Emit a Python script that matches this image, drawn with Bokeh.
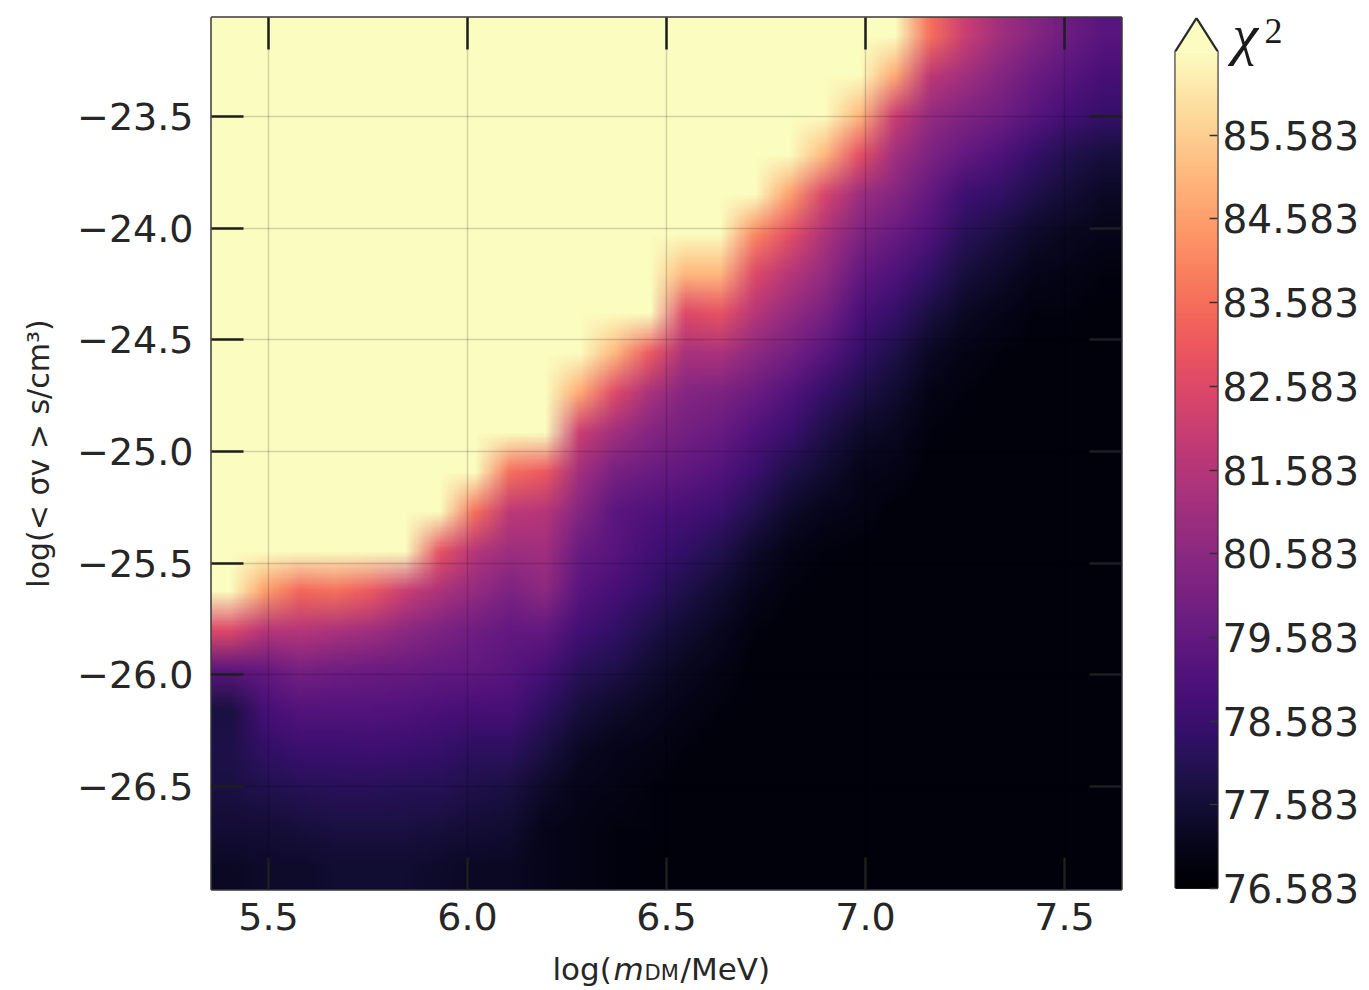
import numpy as np
from bokeh.plotting import figure
from bokeh.models import (Range1d, LinearColorMapper, FixedTicker, LinearAxis, ColorBar,
                          CustomJSTickFormatter, PrintfTickFormatter, Label)
from bokeh.layouts import row, column
from bokeh.palettes import Magma256
from bokeh.embed import file_html
from bokeh.resources import INLINE

# ---------------- data ----------------
CHI2_MIN = 76.583          # colour scale bottom
CHI2_SPAN = 10.0           # colour scale covers CHI2_MIN .. CHI2_MIN + 10
X_LIM = (5.357, 7.643)     # log(m_DM / MeV), image extent
Y_LIM = (-26.961, -23.057) # log(<sigma v> s/cm^3), image extent

x_ticks = [5.5, 6.0, 6.5, 7.0, 7.5]
y_ticks = [-26.5, -26.0, -25.5, -25.0, -24.5, -24.0, -23.5]
cbar_ticks = [76.583, 77.583, 78.583, 79.583, 80.583, 81.583, 82.583, 83.583, 84.583, 85.583]

SAT = 12.0  # delta chi^2 above the colour range (pale yellow region)

# delta chi^2 (chi^2 - CHI2_MIN), one list per mass column (left -> right),
# each list runs from the top row (largest <sigma v>) down to the bottom row
dchi2_columns = [
    [SAT] * 15 + [6.0, 2.8, 1.2, 1.3, 1.2, 1.0, 0.7],
    [SAT] * 14 + [8.0, 5.0, 3.0, 2.3, 1.8, 1.4, 1.0, 0.8],
    [SAT] * 14 + [6.8, 5.0, 3.5, 2.6, 2.0, 1.5, 1.1, 0.8],
    [SAT] * 14 + [7.0, 4.8, 3.3, 2.6, 2.0, 1.6, 1.2, 0.9],
    [SAT] * 14 + [6.5, 4.5, 3.2, 2.6, 2.1, 1.6, 1.2, 0.9],
    [SAT] * 14 + [5.5, 4.0, 3.1, 2.5, 2.0, 1.5, 1.2, 0.9],
    [SAT] * 13 + [6.3, 4.8, 3.6, 3.0, 2.4, 1.9, 1.5, 1.1, 0.8],
    [SAT] * 12 + [7.0, 5.0, 4.2, 3.3, 2.9, 2.3, 1.7, 1.3, 1.0, 0.7],
    [SAT] * 11 + [7.0, 5.2, 4.4, 3.6, 3.0, 2.7, 2.3, 1.7, 1.2, 0.9, 0.7],
    [SAT] * 11 + [6.5, 5.0, 4.5, 4.0, 3.0, 2.3, 1.7, 1.2, 0.8, 0.5, 0.5],
    [SAT] * 9 + [8.2, 5.5, 4.5, 3.8, 3.1, 2.7, 2.2, 1.6, 1.1, 0.7, 0.5, 0.4, 0.4],
    [SAT] * 8 + [8.5, 6.0, 4.5, 3.5, 2.8, 2.7, 2.3, 1.8, 1.3, 0.8, 0.5, 0.4, 0.3, 0.3],
    [SAT] * 8 + [6.5, 4.7, 3.8, 3.2, 2.5, 2.2, 1.8, 1.3, 0.9, 0.6, 0.4, 0.3, 0.3, 0.2],
    [SAT] * 6 + [8.5, 6.0, 4.7, 3.8, 3.4, 2.9, 2.3, 1.8, 1.3, 0.9, 0.6, 0.4, 0.3, 0.2, 0.2, 0.2],
    [SAT] * 6 + [8.5, 6.3, 4.8, 3.6, 3.1, 2.6, 2.0, 1.4, 0.9, 0.6, 0.4, 0.3, 0.2, 0.2, 0.2, 0.2],
    [SAT] * 5 + [7.5, 6.0, 5.0, 4.0, 3.2, 2.5, 2.0, 1.4, 0.8, 0.5, 0.3] + [0.2] * 6,
    [SAT] * 4 + [8.0, 6.2, 5.0, 4.2, 3.4, 2.6, 2.0, 1.3, 0.8, 0.4, 0.3] + [0.2] * 7,
    [SAT] * 3 + [8.5, 5.8, 4.8, 4.2, 3.5, 2.7, 1.9, 1.3, 0.9, 0.5, 0.3] + [0.2] * 8,
    [SAT] * 2 + [8.5, 6.2, 4.4, 3.7, 3.0, 2.4, 1.9, 1.3, 0.8, 0.5, 0.4] + [0.2] * 9,
    [SAT] * 1 + [8.2, 5.5, 4.5, 3.8, 3.1, 2.5, 1.9, 1.3, 0.9, 0.6, 0.4] + [0.2] * 10,
    [7.0, 5.2, 4.2, 3.6, 3.0, 2.5, 1.8, 1.2, 0.7, 0.4, 0.3] + [0.2] * 11,
    [5.5, 4.5, 3.7, 3.0, 2.1, 1.6, 1.1, 0.7, 0.4, 0.3] + [0.2] * 12,
    [4.5, 3.8, 3.3, 2.5, 1.8, 1.2, 0.8, 0.5, 0.3] + [0.2] * 13,
    [3.8, 3.2, 2.7, 1.9, 1.3, 0.8, 0.5, 0.3] + [0.2] * 14,
    [3.2, 2.7, 2.2, 1.4, 1.0, 0.6, 0.4, 0.3] + [0.2] * 14,
    [2.7, 2.3, 1.9, 1.1, 0.7, 0.5, 0.3] + [0.2] * 15,
]

# ---------------- build ----------------
grid = np.array(dchi2_columns, dtype=float).T          # rows top->bottom, cols left->right
chi2_img = CHI2_MIN + np.flipud(grid)                   # bokeh image row 0 = bottom

mapper = LinearColorMapper(palette=Magma256, low=CHI2_MIN, high=CHI2_MIN + CHI2_SPAN)

TICK_FONT = "DejaVu Sans"
TXT = "#262626"
MAIN_H = 950
FRAME_TOP, FRAME_BOTTOM = 17, 889   # page pixels of the plot frame

p = figure(width=1150, height=MAIN_H,
           x_range=Range1d(*X_LIM), y_range=Range1d(*Y_LIM),
           output_backend="svg", toolbar_location=None,
           min_border_left=211, min_border_right=29,
           min_border_top=FRAME_TOP, min_border_bottom=MAIN_H - FRAME_BOTTOM)

img = p.image(image=[chi2_img], x=X_LIM[0], y=Y_LIM[0],
              dw=X_LIM[1] - X_LIM[0], dh=Y_LIM[1] - Y_LIM[0],
              color_mapper=mapper)
img.level = "image"

p.outline_line_color = "#3a3a3a"
p.outline_line_width = 2.5
p.background_fill_color = "white"
p.border_fill_color = "white"

minus_fmt = CustomJSTickFormatter(code="return tick.toFixed(1).replace('-', '\\u2212');")
blank_fmt = CustomJSTickFormatter(code="return '';")

# Display the raster smoothly (like imshow's interpolated display) instead of pixelated blocks.
SMOOTH_JS = """
if (!window.__smoothInit) {
  window.__smoothInit = true;
  try {
    const proto = CanvasRenderingContext2D.prototype;
    const d = Object.getOwnPropertyDescriptor(proto, 'imageSmoothingEnabled');
    if (d && d.set) {
      Object.defineProperty(proto, 'imageSmoothingEnabled', {
        configurable: true, enumerable: d.enumerable,
        get: function() { return d.get.call(this); },
        set: function(v) { d.set.call(this, true); }
      });
    }
  } catch (e) {}
  const fix = function(root) {
    const all = root.querySelectorAll('*');
    for (const el of all) {
      if (el.shadowRoot) {
        const sr = el.shadowRoot;
        if (!sr.__smooth) {
          const st = document.createElement('style');
          st.textContent = 'image { image-rendering: auto !important; }';
          sr.appendChild(st);
          sr.__smooth = true;
        }
        fix(sr);
      }
      if (el.tagName && el.tagName.toLowerCase() === 'image') {
        if (el.getAttribute('image-rendering')) { el.removeAttribute('image-rendering'); }
        if (el.style && el.style.getPropertyValue('image-rendering') !== 'auto') {
          el.style.setProperty('image-rendering', 'auto', 'important');
        }
      }
    }
  };
  let n = 0;
  const h = setInterval(function() { fix(document); n += 1; if (n > 120) { clearInterval(h); } }, 40);
  setTimeout(function() {
    try { r.visible = false; } catch (e) {}
    setTimeout(function() { try { r.visible = true; } catch (e) {} }, 60);
  }, 80);
}
return '';
"""
smooth_fmt = CustomJSTickFormatter(args=dict(r=img), code=SMOOTH_JS)


def style_axis(ax, ticks, fmt, show_labels=True):
    ax.ticker = FixedTicker(ticks=ticks)
    ax.formatter = fmt
    ax.axis_line_color = None
    ax.major_tick_in = 32
    ax.major_tick_out = 0
    ax.major_tick_line_width = 2.5
    ax.major_tick_line_color = "#1e1e1e"
    ax.minor_tick_line_color = None
    ax.major_label_text_font = TICK_FONT
    ax.major_label_text_font_size = "38px"
    ax.major_label_text_color = TXT
    if not show_labels:
        ax.major_label_standoff = 0


style_axis(p.xaxis[0], x_ticks, CustomJSTickFormatter(code="return tick.toFixed(1);"))
p.xaxis[0].major_label_standoff = 13
style_axis(p.yaxis[0], y_ticks, minus_fmt)
p.yaxis[0].major_label_standoff = 18
p.yaxis[0].axis_label = "log(< σv > s/cm³)"
p.yaxis[0].axis_label_text_font = "DejaVu Sans"
p.yaxis[0].axis_label_text_font_style = "normal"
p.yaxis[0].axis_label_text_font_size = "30px"
p.yaxis[0].axis_label_text_color = TXT
p.yaxis[0].axis_label_standoff = 18

top_ax = LinearAxis()
style_axis(top_ax, x_ticks, smooth_fmt, show_labels=False)
p.add_layout(top_ax, "above")
right_ax = LinearAxis()
style_axis(right_ax, y_ticks, blank_fmt, show_labels=False)
p.add_layout(right_ax, "right")

p.xgrid.ticker = x_ticks
p.ygrid.ticker = y_ticks
for g in (p.xgrid[0], p.ygrid[0]):
    g.grid_line_color = "#000000"
    g.grid_line_alpha = 0.16
    g.grid_line_width = 1.5

# ---------------- colour bar ----------------
# frame shares top/bottom with the main plot (page y 17..889); x = page x - 1173
CB_W = 1369 - 1150
PX_PER_UNIT = 83.69
CB_Y = (CHI2_MIN - 1.5 / PX_PER_UNIT, CHI2_MIN + (FRAME_BOTTOM - FRAME_TOP - 1.5) / PX_PER_UNIT)
TIP = CHI2_MIN + CHI2_SPAN + 33 / PX_PER_UNIT          # top of the "extend" arrow
cb = figure(width=CB_W, height=MAIN_H,
            x_range=Range1d(0, CB_W - 23), y_range=Range1d(*CB_Y),
            output_backend="svg", toolbar_location=None,
            x_axis_location=None, y_axis_location=None,
            min_border_left=23, min_border_right=0,
            min_border_top=FRAME_TOP, min_border_bottom=MAIN_H - FRAME_BOTTOM)
cb.xgrid.visible = False
cb.ygrid.visible = False
cb.outline_line_color = None
cb.background_fill_color = "white"
cb.border_fill_color = "white"

BAR_L, BAR_W = 2, 42
color_bar = ColorBar(color_mapper=mapper, ticker=FixedTicker(ticks=cbar_ticks),
                     formatter=PrintfTickFormatter(format="%.3f"),
                     location=(BAR_L, 1), width=BAR_W, height=int(round(CHI2_SPAN * PX_PER_UNIT)),
                     padding=0, margin=0, label_standoff=5,
                     major_tick_in=8, major_tick_out=0,
                     major_tick_line_color="#333333", major_tick_line_width=1.5,
                     minor_tick_line_color=None,
                     bar_line_color=None, border_line_color=None,
                     background_fill_alpha=0,
                     major_label_text_font=TICK_FONT, major_label_text_font_size="39px",
                     major_label_text_color=TXT)
cb.add_layout(color_bar)

top = CHI2_MIN + CHI2_SPAN
mid = BAR_L + BAR_W / 2
cb.patch(x=[BAR_L, BAR_L + BAR_W, mid], y=[top, top, TIP],
         fill_color=Magma256[-1], line_color=None)
cb.line(x=[BAR_L, BAR_L, mid, BAR_L + BAR_W, BAR_L + BAR_W, BAR_L],
        y=[CHI2_MIN, top, TIP, top, CHI2_MIN, CHI2_MIN],
        line_color="#2a2a2a", line_width=2.2)

cb.add_layout(Label(x=59, y=FRAME_BOTTOM - 34, x_units="screen", y_units="screen", text="χ",
                    text_font="Liberation Serif", text_font_style="italic",
                    text_font_size="58px", text_color="#1a1a1a", text_baseline="alphabetic"))
cb.add_layout(Label(x=91, y=FRAME_BOTTOM - 30, x_units="screen", y_units="screen", text="2",
                    text_font="Liberation Serif", text_font_size="36px",
                    text_color="#1a1a1a", text_baseline="alphabetic"))

# ---------------- x-axis label strip ----------------
LBL_H = 990 - MAIN_H
lab = figure(width=1369, height=LBL_H,
             x_range=Range1d(0, 1369), y_range=Range1d(0, LBL_H),
             output_backend="svg", toolbar_location=None,
             x_axis_location=None, y_axis_location=None, min_border=0)
lab.xgrid.visible = False
lab.ygrid.visible = False
lab.outline_line_color = None
lab.border_fill_color = "white"
lab.background_fill_color = "white"
LBL_FONT = "DejaVu Sans"
for txt, sx, sy, size, style in [
    ("log(", 552, 22, "31px", "normal"),
    ("m", 613, 22, "31px", "italic"),
    ("DM", 644, 18, "21px", "normal"),
    ("/MeV)", 680, 22, "31px", "normal"),
]:
    lab.add_layout(Label(x=sx, y=sy, y_units="screen", text=txt,
                         text_font=LBL_FONT, text_font_size=size, text_font_style=style,
                         text_color=TXT, text_baseline="alphabetic", text_align="left"))

layout = column(row(p, cb, spacing=0), lab, spacing=0)
open("out.html", "w").write(file_html(layout, INLINE))
